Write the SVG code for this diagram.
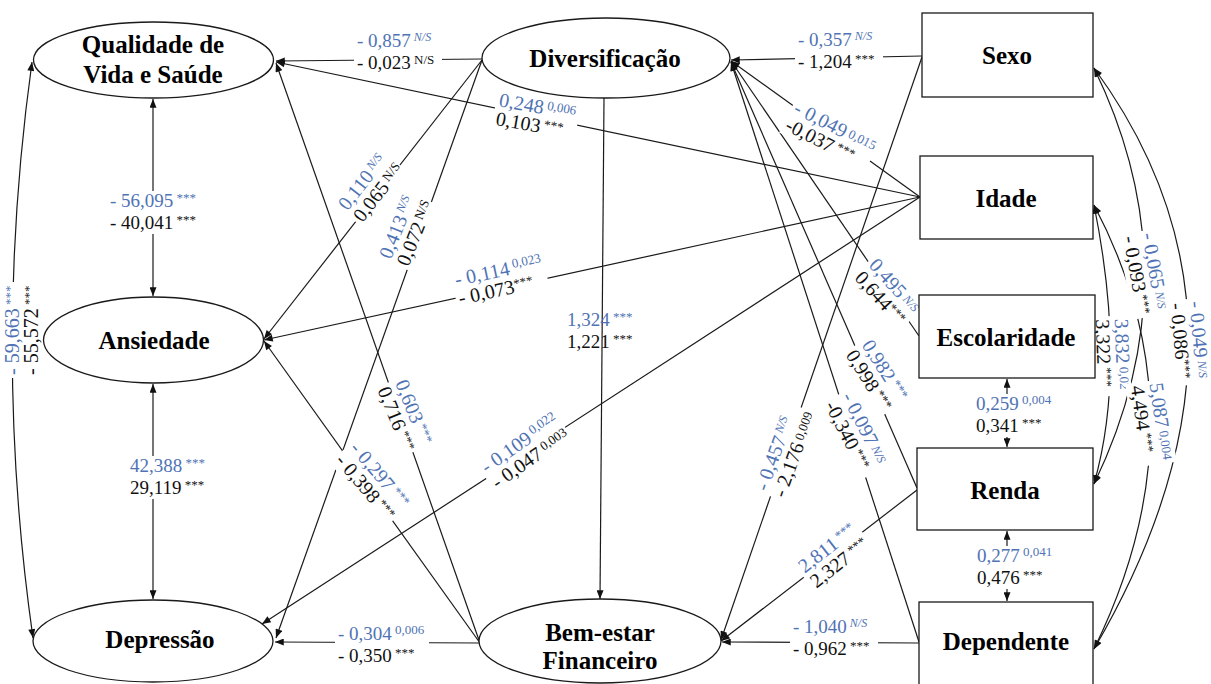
<svg xmlns="http://www.w3.org/2000/svg" width="1211" height="684" viewBox="0 0 1211 684">
  <defs>
    <marker id="ah" viewBox="0 0 10 8" refX="10" refY="4" markerWidth="10" markerHeight="7" markerUnits="userSpaceOnUse" orient="auto-start-reverse">
      <path d="M0,0 L10,4 L0,8 z" fill="#111"/>
    </marker>
    <style>
      .e { fill: none; stroke: #1a1a1a; stroke-width: 1.2; marker-end: url(#ah); }
      .cv { fill: none; stroke: #1a1a1a; stroke-width: 1.2; marker-start: url(#ah); marker-end: url(#ah); }
      .nd { fill: #fff; stroke: #1a1a1a; stroke-width: 1.3; }
      .nt { font-family: "Liberation Serif", "Times New Roman", serif; font-weight: bold; font-size: 25px; text-anchor: middle; fill: #000; }
      .lb { font-family: "Liberation Serif", "Times New Roman", serif; font-size: 20px; fill: #111; }
      .h { font-size: 19px; }
      .bl { fill: #4f73b4; }
      .s { font-size: 13px; }
      .i { font-size: 12px; font-style: italic; }
      .bg { fill: #fff; }
    </style>
  </defs>

  <!-- paths and covariances -->
  <g id="connectors">
    <path class="e" d="M482,59 L276,61"/>
    <path class="e" d="M920,197 L276,62"/>
    <path class="e" d="M480,643 L276,63"/>
    <path class="e" d="M482,60 L264,339"/>
    <path class="e" d="M480,643 L264,341"/>
    <path class="e" d="M920,197 L264,340"/>
    <path class="e" d="M482,60 L276,638"/>
    <path class="e" d="M920,197 L262,624"/>
    <path class="e" d="M480,643 L275,642"/>
    <path class="e" d="M604,98 L600,599"/>
    <path class="e" d="M922,56 L731,60"/>
    <path class="e" d="M920,197 L731,61"/>
    <path class="e" d="M919,336 L731,61"/>
    <path class="e" d="M917,488 L731,62"/>
    <path class="e" d="M919,642 L731,62"/>
    <path class="e" d="M922,57 L721,640"/>
    <path class="e" d="M917,490 L721,641"/>
    <path class="e" d="M919,643 L722,642"/>
    <path class="cv" d="M153,99 L153,296"/>
    <path class="cv" d="M153,384 L153,599"/>
    <path class="cv" d="M32,62 Q-8,350 33,638"/>
    <path class="cv" d="M1007,379 L1007,447"/>
    <path class="cv" d="M1007,531 L1007,601"/>
    <path class="cv" d="M1094,68 Q1195,275 1094,484"/>
    <path class="cv" d="M1094,68 Q1283,326 1094,649"/>
    <path class="cv" d="M1094,205 Q1127,368 1094,484"/>
    <path class="cv" d="M1094,205 Q1207,419 1094,649"/>
  </g>

  <!-- coefficient labels: blue line above, black line below -->
  <g id="labels">
    <g transform="translate(398,53)"><rect class="bg" x="-44" y="-22" width="88" height="43"/><text class="lb h"><tspan class="bl" x="-41" y="-6">- 0,857</tspan><tspan class="bl i" dy="-6"> N/S</tspan><tspan x="-41" y="15.5">- 0,023</tspan><tspan class="s" dy="-5"> N/S</tspan></text></g>
    <g transform="translate(536,117) rotate(10)"><rect class="bg" x="-42" y="-20" width="84" height="40"/><text class="lb"><tspan class="bl" x="-39" y="-4">0,248</tspan><tspan class="bl s" dy="-5"> 0,006</tspan><tspan x="-39" y="15">0,103</tspan><tspan class="s" dy="-5"> ***</tspan></text></g>
    <g transform="translate(404,416) rotate(68)"><rect class="bg" x="-37" y="-20" width="74" height="40"/><text class="lb"><tspan class="bl" x="-34" y="-4">0,603</tspan><tspan class="bl s" dy="-5"> ***</tspan><tspan x="-34" y="15">0,716</tspan><tspan class="s" dy="-5"> ***</tspan></text></g>
    <g transform="translate(371,188) rotate(-52)"><rect class="bg" x="-36" y="-20" width="72" height="40"/><text class="lb"><tspan class="bl" x="-33" y="-4">0,110</tspan><tspan class="bl i" dy="-6"> N/S</tspan><tspan x="-33" y="15">0,065</tspan><tspan class="s" dy="-5"> N/S</tspan></text></g>
    <g transform="translate(407,231) rotate(-68)"><rect class="bg" x="-36" y="-20" width="72" height="40"/><text class="lb"><tspan class="bl" x="-33" y="-4">0,413</tspan><tspan class="bl i" dy="-6"> N/S</tspan><tspan x="-33" y="15">0,072</tspan><tspan class="s" dy="-5"> N/S</tspan></text></g>
    <g transform="translate(372,482) rotate(50)"><rect class="bg" x="-43" y="-20" width="86" height="40"/><text class="lb"><tspan class="bl" x="-40" y="-4">- 0,297</tspan><tspan class="bl s" dy="-5"> ***</tspan><tspan x="-40" y="15">- 0,398</tspan><tspan class="s" dy="-5"> ***</tspan></text></g>
    <g transform="translate(500,281) rotate(-12)"><rect class="bg" x="-47" y="-20" width="94" height="40"/><text class="lb"><tspan class="bl" x="-44" y="-4">- 0,114</tspan><tspan class="bl s" dy="-6"> 0,023</tspan><tspan x="-44" y="15">- 0,073</tspan><tspan class="s" dy="-5">***</tspan></text></g>
    <g transform="translate(525,452) rotate(-35)"><rect class="bg" x="-47" y="-20" width="94" height="40"/><text class="lb"><tspan class="bl" x="-44" y="-4">- 0,109</tspan><tspan class="bl s" dy="-6"> 0,022</tspan><tspan x="-44" y="15">- 0,047</tspan><tspan class="s" dy="-5"> 0,003</tspan></text></g>
    <g transform="translate(382,646)"><rect class="bg" x="-47" y="-22" width="94" height="43"/><text class="lb h"><tspan class="bl" x="-44" y="-6">- 0,304</tspan><tspan class="bl s" dy="-6"> 0,006</tspan><tspan x="-44" y="15.5">- 0,350</tspan><tspan class="s" dy="-5"> ***</tspan></text></g>
    <g transform="translate(601,332)"><text class="lb h"><tspan class="bl" x="-34" y="-6">1,324</tspan><tspan class="bl s" dy="-5"> ***</tspan><tspan x="-34" y="15.5">1,221</tspan><tspan class="s" dy="-5"> ***</tspan></text></g>
    <g transform="translate(839,52)"><rect class="bg" x="-44" y="-22" width="88" height="43"/><text class="lb h"><tspan class="bl" x="-41" y="-6">- 0,357</tspan><tspan class="bl i" dy="-6"> N/S</tspan><tspan x="-41" y="15.5">- 1,204</tspan><tspan class="s" dy="-5"> ***</tspan></text></g>
    <g transform="translate(830,136) rotate(27)"><rect class="bg" x="-47" y="-20" width="94" height="40"/><text class="lb"><tspan class="bl" x="-44" y="-4">- 0,049</tspan><tspan class="bl s" dy="-3"> 0,015</tspan><tspan x="-44" y="15">-0,037</tspan><tspan class="s" dy="-5"> ***</tspan></text></g>
    <g transform="translate(887,293) rotate(48)"><rect class="bg" x="-36" y="-20" width="72" height="40"/><text class="lb"><tspan class="bl" x="-33" y="-4">0,495</tspan><tspan class="bl i" dy="-3"> N/S</tspan><tspan x="-33" y="15">0,644</tspan><tspan class="s" dy="-5">***</tspan></text></g>
    <g transform="translate(876,376) rotate(58)"><rect class="bg" x="-37" y="-20" width="74" height="40"/><text class="lb"><tspan class="bl" x="-34" y="-4">0,982</tspan><tspan class="bl s" dy="-5"> ***</tspan><tspan x="-34" y="15">0,998</tspan><tspan class="s" dy="-5"> ***</tspan></text></g>
    <g transform="translate(856,434) rotate(63)"><rect class="bg" x="-43" y="-20" width="86" height="40"/><text class="lb"><tspan class="bl" x="-40" y="-4">- 0,097</tspan><tspan class="bl i" dy="-3"> N/S</tspan><tspan x="-40" y="15">-0,340</tspan><tspan class="s" dy="-5"> ***</tspan></text></g>
    <g transform="translate(786,452) rotate(-70)"><rect class="bg" x="-47" y="-20" width="94" height="40"/><text class="lb"><tspan class="bl" x="-44" y="-4">- 0,457</tspan><tspan class="bl i" dy="-6"> N/S</tspan><tspan x="-44" y="15">- 2,176</tspan><tspan class="s" dy="-3"> 0,009</tspan></text></g>
    <g transform="translate(834,556) rotate(-38)"><rect class="bg" x="-37" y="-20" width="74" height="40"/><text class="lb"><tspan class="bl" x="-34" y="-4">2,811</tspan><tspan class="bl s" dy="-5"> ***</tspan><tspan x="-34" y="15">2,327</tspan><tspan class="s" dy="-5"> ***</tspan></text></g>
    <g transform="translate(834,639)"><rect class="bg" x="-44" y="-22" width="88" height="43"/><text class="lb h"><tspan class="bl" x="-41" y="-6">- 1,040</tspan><tspan class="bl i" dy="-6"> N/S</tspan><tspan x="-41" y="15.5">- 0,962</tspan><tspan class="s" dy="-5"> ***</tspan></text></g>
    <g transform="translate(1015,416)"><rect class="bg" x="-42" y="-22" width="84" height="43"/><text class="lb h"><tspan class="bl" x="-39" y="-6">0,259</tspan><tspan class="bl s" dy="-6"> 0,004</tspan><tspan x="-39" y="15.5">0,341</tspan><tspan class="s" dy="-5"> ***</tspan></text></g>
    <g transform="translate(1016,568)"><rect class="bg" x="-42" y="-22" width="84" height="43"/><text class="lb h"><tspan class="bl" x="-39" y="-6">0,277</tspan><tspan class="bl s" dy="-6"> 0,041</tspan><tspan x="-39" y="15.5">0,476</tspan><tspan class="s" dy="-5"> ***</tspan></text></g>
    <g transform="translate(155,213)"><rect class="bg" x="-48" y="-22" width="96" height="43"/><text class="lb h"><tspan class="bl" x="-45" y="-6">- 56,095</tspan><tspan class="bl s" dy="-5"> ***</tspan><tspan x="-45" y="15.5">- 40,041</tspan><tspan class="s" dy="-5"> ***</tspan></text></g>
    <g transform="translate(170,478)"><rect class="bg" x="-43" y="-22" width="86" height="43"/><text class="lb h"><tspan class="bl" x="-40" y="-6">42,388</tspan><tspan class="bl s" dy="-5"> ***</tspan><tspan x="-40" y="15.5">29,119</tspan><tspan class="s" dy="-5"> ***</tspan></text></g>
    <g transform="translate(23,330) rotate(-90)"><rect class="bg" x="-48" y="-20" width="96" height="40"/><text class="lb"><tspan class="bl" x="-45" y="-4">- 59,663</tspan><tspan class="bl s" dy="-5"> ***</tspan><tspan x="-45" y="15">- 55,572</tspan><tspan class="s" dy="-5"> ***</tspan></text></g>
    <g transform="translate(1145,274) rotate(80)"><rect class="bg" x="-43" y="-20" width="86" height="40"/><text class="lb"><tspan class="bl" x="-40" y="-4">- 0,065</tspan><tspan class="bl i" dy="-3"> N/S</tspan><tspan x="-40" y="15">- 0,093</tspan><tspan class="s" dy="-5"> ***</tspan></text></g>
    <g transform="translate(1189,342) rotate(85)"><rect class="bg" x="-43" y="-20" width="86" height="40"/><text class="lb"><tspan class="bl" x="-40" y="-4">- 0,049</tspan><tspan class="bl i" dy="-3"> N/S</tspan><tspan x="-40" y="15">- 0,086</tspan><tspan class="s" dy="-5">***</tspan></text></g>
    <g transform="translate(1112,356) rotate(88)"><rect class="bg" x="-40" y="-18" width="80" height="37"/><text class="lb"><tspan class="bl" x="-37" y="-4">3,832</tspan><tspan class="bl s" dy="-3"> 0,02</tspan><tspan x="-37" y="15">3,322</tspan><tspan class="s" dy="-5"> ***</tspan></text></g>
    <g transform="translate(1151,423) rotate(82)"><rect class="bg" x="-42" y="-20" width="84" height="40"/><text class="lb"><tspan class="bl" x="-39" y="-4">5,087</tspan><tspan class="bl s" dy="-3"> 0,004</tspan><tspan x="-39" y="15">4,494</tspan><tspan class="s" dy="-5"> ***</tspan></text></g>
  </g>

  <!-- latent constructs -->
  <g id="n-qualidade"><ellipse class="nd" cx="153.5" cy="60" rx="120" ry="38"/><text class="nt" x="153" y="53">Qualidade de<tspan x="153" y="83">Vida e Saúde</tspan></text></g>
  <g id="n-diversificacao"><ellipse class="nd" cx="606" cy="58" rx="124" ry="40"/><text class="nt" x="605" y="67">Diversificação</text></g>
  <g id="n-ansiedade"><ellipse class="nd" cx="153.5" cy="340" rx="110" ry="43"/><text class="nt" x="154" y="349">Ansiedade</text></g>
  <g id="n-depressao"><ellipse class="nd" cx="153" cy="641" rx="120" ry="41"/><text class="nt" x="160" y="648">Depressão</text></g>
  <g id="n-bemestar"><ellipse class="nd" cx="600" cy="641" rx="121" ry="42"/><text class="nt" x="600" y="641">Bem-estar<tspan x="600" y="669">Financeiro</tspan></text></g>

  <!-- observed variables -->
  <g id="n-sexo"><rect class="nd" x="922" y="13" width="171" height="84"/><text class="nt" x="1007" y="64">Sexo</text></g>
  <g id="n-idade"><rect class="nd" x="920" y="156" width="173" height="83"/><text class="nt" x="1006" y="207">Idade</text></g>
  <g id="n-escolaridade"><rect class="nd" x="919" y="295" width="176" height="83"/><text class="nt" x="1006" y="346">Escolaridade</text></g>
  <g id="n-renda"><rect class="nd" x="917" y="448" width="176" height="82"/><text class="nt" x="1005" y="499">Renda</text></g>
  <g id="n-dependente"><rect class="nd" x="919" y="602" width="174" height="88"/><text class="nt" x="1006" y="650">Dependente</text></g>
</svg>
